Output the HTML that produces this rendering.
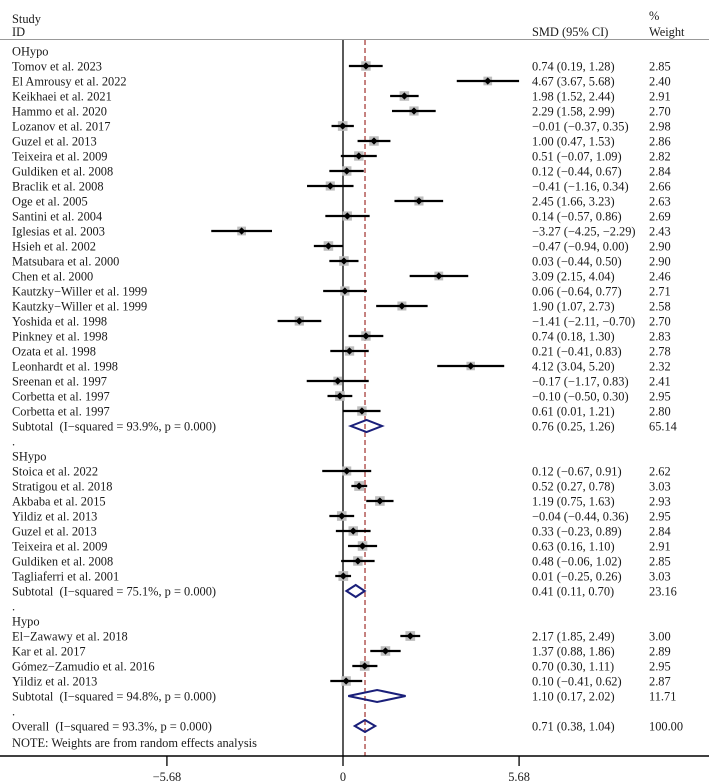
<!DOCTYPE html>
<html><head><meta charset="utf-8">
<style>
html,body{margin:0;padding:0;background:#fff;}
svg{display:block;}
text{font-family:"Liberation Serif",serif;font-size:12.4px;fill:#1a1a1a;}
</style></head>
<body>
<svg id="plot" width="709" height="782" viewBox="0 0 709 782">
<text x="12" y="23">Study</text>
<text x="12" y="36">ID</text>
<text x="532" y="36">SMD (95% CI)</text>
<text x="649" y="20">%</text>
<text x="649" y="36">Weight</text>
<line x1="0" y1="39.5" x2="709" y2="39.5" stroke="#999" stroke-width="1"/>
<g id="marks"></g>
</svg>
<script>
// rows: type, label, smd, lo, hi, weight
const rowTypes = ["h","s","s","s","s","s","s","s","s","s","s","s","s","s","s","s","s","s","s","s","s","s","s","s","s","t","d","h","s","s","s","s","s","s","s","s","t","d","h","s","s","s","s","t","d","o"];
const rowLabels = ["OHypo","Tomov et al. 2023","El Amrousy et al. 2022","Keikhaei et al. 2021","Hammo et al. 2020","Lozanov et al. 2017","Guzel et al. 2013","Teixeira et al. 2009","Guldiken et al. 2008","Braclik et al. 2008","Oge et al. 2005","Santini et al. 2004","Iglesias et al. 2003","Hsieh et al. 2002","Matsubara et al. 2000","Chen et al. 2000","Kautzky\u2212Willer et al. 1999","Kautzky\u2212Willer et al. 1999","Yoshida et al. 1998","Pinkney et al. 1998","Ozata et al. 1998","Leonhardt et al. 1998","Sreenan et al. 1997","Corbetta et al. 1997","Corbetta et al. 1997","Subtotal\u00a0\u00a0(I\u2212squared = 93.9%, p = 0.000)",".","SHypo","Stoica et al. 2022","Stratigou et al. 2018","Akbaba et al. 2015","Yildiz et al. 2013","Guzel et al. 2013","Teixeira et al. 2009","Guldiken et al. 2008","Tagliaferri et al. 2001","Subtotal\u00a0\u00a0(I\u2212squared = 75.1%, p = 0.000)",".","Hypo","El\u2212Zawawy et al. 2018","Kar et al. 2017","Gómez\u2212Zamudio et al. 2016","Yildiz et al. 2013","Subtotal\u00a0\u00a0(I\u2212squared = 94.8%, p = 0.000)",".","Overall\u00a0\u00a0(I\u2212squared = 93.3%, p = 0.000)"];
const smd = [null,0.74,4.67,1.98,2.29,-0.01,1.00,0.51,0.12,-0.41,2.45,0.14,-3.27,-0.47,0.03,3.09,0.06,1.90,-1.41,0.74,0.21,4.12,-0.17,-0.10,0.61,0.76,null,null,0.12,0.52,1.19,-0.04,0.33,0.63,0.48,0.01,0.41,null,null,2.17,1.37,0.70,0.10,1.10,null,0.71];
const ciLow = [null,0.19,3.67,1.52,1.58,-0.37,0.47,-0.07,-0.44,-1.16,1.66,-0.57,-4.25,-0.94,-0.44,2.15,-0.64,1.07,-2.11,0.18,-0.41,3.04,-1.17,-0.50,0.01,0.25,null,null,-0.67,0.27,0.75,-0.44,-0.23,0.16,-0.06,-0.25,0.11,null,null,1.85,0.88,0.30,-0.41,0.17,null,0.38];
const ciHigh = [null,1.28,5.68,2.44,2.99,0.35,1.53,1.09,0.67,0.34,3.23,0.86,-2.29,0.00,0.50,4.04,0.77,2.73,-0.70,1.30,0.83,5.20,0.83,0.30,1.21,1.26,null,null,0.91,0.78,1.63,0.36,0.89,1.10,1.02,0.26,0.70,null,null,2.49,1.86,1.11,0.62,2.02,null,1.04];
const weights = [null,2.85,2.40,2.91,2.70,2.98,2.86,2.82,2.84,2.66,2.63,2.69,2.43,2.90,2.90,2.46,2.71,2.58,2.70,2.83,2.78,2.32,2.41,2.95,2.80,65.14,null,null,2.62,3.03,2.93,2.95,2.84,2.91,2.85,3.03,23.16,null,null,3.00,2.89,2.95,2.87,11.71,null,100.00];
const overallEffect = 0.71;
const tickValues = [-5.68, 0, 5.68];
const tickLabels = ["\u22125.68","0","5.68"];

const NS = "http://www.w3.org/2000/svg";
const g = document.getElementById("marks");
const x = v => 343 + v * 31;
const rowY = i => 51 + i * 15;
function mk(tag, attrs, parent){ const e=document.createElementNS(NS,tag); for(const k in attrs) e.setAttribute(k,attrs[k]); (parent||g).appendChild(e); return e; }
const fmt = v => v.toFixed(2).replace("-","\u2212");

const zl = mk("line",{x1:x(0),y1:40,x2:x(0),y2:756,stroke:"#000","stroke-width":1.3});


const ol = mk("line",{x1:x(overallEffect),y1:40,x2:x(overallEffect),y2:756,stroke:"#a0302c","stroke-width":1.2,"stroke-dasharray":"5,3"});



rowTypes.forEach((t,i)=>{
  const y = rowY(i);
  const lab = mk("text",{x:12,y:y+4.5});
  lab.textContent = rowLabels[i];
  
  
  if(smd[i]===null) return;
  const val = mk("text",{x:532,y:y+4.5});
  val.textContent = fmt(smd[i])+" ("+fmt(ciLow[i])+", "+fmt(ciHigh[i])+")";
  
  
  const w = mk("text",{x:649,y:y+4.5});
  w.textContent = weights[i].toFixed(2);
  
  
  if(t==="s"){
    const s = 5.6*Math.sqrt(weights[i]);
    const sq = mk("rect",{x:x(smd[i])-s/2,y:y-s/2,width:s,height:s,fill:"#bdbdbd"});
    
    
    const ci = mk("line",{x1:x(ciLow[i]),y1:y,x2:x(ciHigh[i]),y2:y,stroke:"#000","stroke-width":2.2});
    
    
    const cx=x(smd[i]);
    const dm = mk("polygon",{points:`${cx-3.6},${y} ${cx},${y-3.6} ${cx+3.6},${y} ${cx},${y+3.6}`,fill:"#000"});
    
    
  } else {
    const h=6;
    const d = mk("polygon",{points:`${x(ciLow[i])},${y} ${x(smd[i])},${y-h} ${x(ciHigh[i])},${y} ${x(smd[i])},${y+h}`,fill:"none",stroke:"#1a1f7a","stroke-width":2});
    
    
  }
});

const note = mk("text",{x:12,y:747});
note.textContent = "NOTE: Weights are from random effects analysis";



const ax = mk("line",{x1:0,y1:756,x2:709,y2:756,stroke:"#000","stroke-width":1.4});


tickValues.forEach((v,i)=>{
  const tk = mk("line",{x1:x(v),y1:756,x2:x(v),y2:766,stroke:"#000","stroke-width":1.3});
  
  
  const tl = mk("text",{x:x(v),y:781,"text-anchor":"middle"});
  tl.textContent = tickLabels[i];
  
  
});
</script>
</body></html>
